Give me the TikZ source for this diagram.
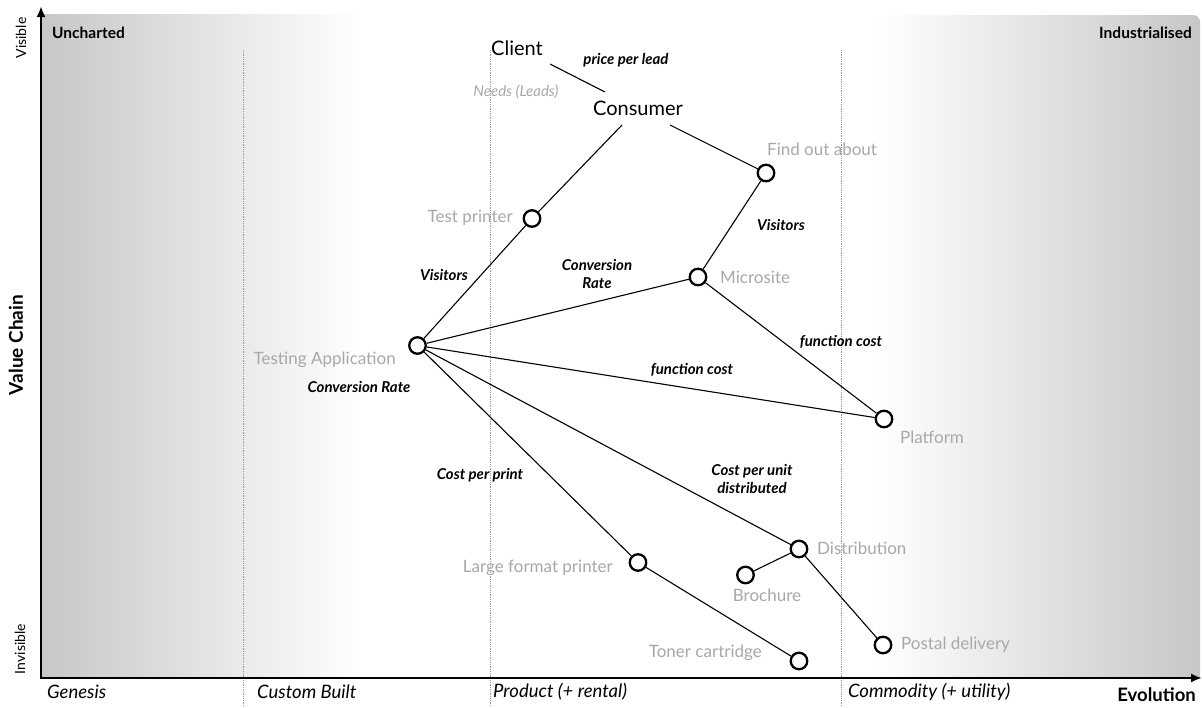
\documentclass[tikz,border=0pt]{standalone}
\usepackage{fontspec}
\setmainfont{Lato}
\usetikzlibrary{arrows.meta}
\definecolor{lbl}{gray}{0.66}
\definecolor{bgd}{gray}{0.78}
\definecolor{dotc}{gray}{0.6}
\begin{document}
\begin{tikzpicture}[x=1pt,y=-1pt,
  comp/.style={circle,draw=black,line width=2.3pt,fill=white,minimum size=16.5pt,inner sep=0pt},
  lab/.style={text=lbl,font=\fontsize{17}{19}\selectfont,inner sep=0pt},
  elab/.style={font=\bfseries\itshape\fontsize{15}{18.5}\selectfont,align=center,inner sep=0pt},
  big/.style={font=\fontsize{20}{22}\selectfont,inner sep=0pt},
  axlab/.style={font=\itshape\fontsize{18.5}{20}\selectfont,inner sep=0pt},
  corner/.style={font=\bfseries\fontsize{15.5}{17}\selectfont,inner sep=0pt},
  link/.style={line width=1.1pt},
  axis/.style={line width=2.6pt,-{Latex[length=11pt,width=9pt]}},
  stage/.style={dotc,densely dotted,line width=0.8pt}]
\useasboundingbox (0,0) rectangle (1202,707);
\fill[white] (0,0) rectangle (1202,707);
% background shading
\shade[left color=bgd,right color=white] (40,14) rectangle (362,678);
\shade[left color=white,right color=bgd] (876,678) -- (876,15) [rounded corners=7pt] -- (1200,15) [sharp corners] -- (1200,678) -- cycle;
% stage separators
\draw[stage] (243,50) -- (243,707);
\draw[stage] (490,50) -- (490,707);
\draw[stage] (841,50) -- (841,707);
% axes
\coordinate (ytop) at (41,6);
\coordinate (xend) at (1202,678);
\draw[axis] (41,679.3) -- (ytop);
\draw[axis] (39.7,678) -- (xend);
% axis labels
\node[corner,anchor=west] (unch) at (52,33) {Uncharted};
\node[corner,anchor=east] (indu) at (1192,33) {Industrialised};
\node[font=\fontsize{14}{16}\selectfont,rotate=90] (vis) at (21,38) {Visible};
\node[font=\fontsize{14}{16}\selectfont,rotate=90] (invis) at (20,649) {Invisible};
\node[font=\bfseries\fontsize{19}{21}\selectfont,rotate=90] (vc) at (16,345) {Value Chain};
\node[axlab,anchor=west] (gen) at (47,692) {Genesis};
\node[axlab,anchor=west] (cus) at (257,692) {Custom Built};
\node[axlab,anchor=west] (prod) at (493,692) {Product (+ rental)};
\node[axlab,anchor=west] (comm) at (848,692) {Commodity (+ utility)};
\node[font=\bfseries\fontsize{18.5}{20}\selectfont,anchor=east,inner sep=0pt] (evo) at (1196,695) {Evolution};
% user nodes
\node[big] (client) at (517,48) {Client};
\node[big] (cons) at (638,108) {Consumer};
\node[text=lbl,font=\itshape\fontsize{15}{17}\selectfont,inner sep=0pt] (needs) at (516,92) {Needs (Leads)};
\node[elab] (ppl) at (626,60) {price per lead};
% components
\node[comp] (find) at (766,173) {};
\node[comp] (tp) at (532,218.5) {};
\node[comp] (micro) at (698,277) {};
\node[comp] (ta) at (417.5,345.5) {};
\node[comp] (plat) at (884,419) {};
\node[comp] (dist) at (799,549) {};
\node[comp] (lfp) at (638,562.5) {};
\node[comp] (broch) at (745.5,575) {};
\node[comp] (post) at (883,645) {};
\node[comp] (toner) at (799,661) {};
% component labels
\node[lab,anchor=west] (findl) at (767,149) {Find out about};
\node[lab,anchor=east] (tpl) at (513,218) {Test printer};
\node[lab,anchor=west] (microl) at (720,277) {Microsite};
\node[lab,anchor=east] (tal) at (396,360) {Testing Application};
\node[lab,anchor=west] (platl) at (900,437) {Platform};
\node[lab,anchor=west] (distl) at (817,548) {Distribution};
\node[lab,anchor=east] (lfpl) at (613,568) {Large format printer};
\node[lab] (brochl) at (767,595) {Brochure};
\node[lab,anchor=west] (postl) at (901,645) {Postal delivery};
\node[lab,anchor=east] (tonerl) at (762,653) {Toner cartridge};
% connectors
\coordinate (cl1) at (550,64);
\coordinate (cl2) at (605,92);
\coordinate (cs1) at (622,125);
\coordinate (cs2) at (670,125);
\draw[link] (cl1) -- (cl2);
\draw[link] (cs1) -- (tp);
\draw[link] (cs2) -- (find);
\draw[link] (find) -- (micro);
\draw[link] (tp) -- (ta);
\draw[link] (micro) -- (ta);
\draw[link] (micro) -- (plat);
\draw[link] (ta) -- (plat);
\draw[link] (ta) -- (dist);
\draw[link] (ta) -- (lfp);
\draw[link] (dist) -- (broch);
\draw[link] (dist) -- (post);
\draw[link] (lfp) -- (toner);
% edge labels
\node[elab] (e1) at (444,275) {Visitors};
\node[elab] (e2) at (781,225) {Visitors};
\node[elab] (e3) at (597,274) {Conversion\\Rate};
\node[elab] (e4) at (841,342) {function cost};
\node[elab] (e5) at (692,370) {function cost};
\node[elab] (e6) at (359,387) {Conversion Rate};
\node[elab] (e7) at (480,475) {Cost per print};
\node[elab] (e8) at (752,479) {Cost per unit\\distributed};
\end{tikzpicture}
\end{document}
